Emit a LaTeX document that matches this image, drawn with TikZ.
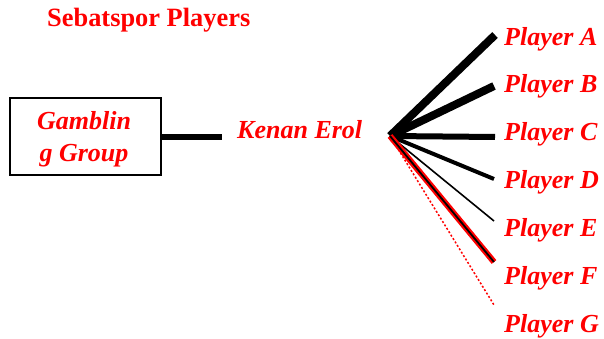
\documentclass[tikz,border=0pt]{standalone}
\usepackage{fontspec}
\setmainfont{Liberation Serif}
\begin{document}
\begin{tikzpicture}[x=1pt,y=-1pt,
  lbl/.style={text=red,font=\fontsize{26}{32}\selectfont\bfseries\itshape,inner sep=0pt,anchor=base west},
  ttl/.style={text=red,font=\fontsize{26.4}{32}\selectfont\bfseries,inner sep=0pt,anchor=base west},
  boxn/.style={draw=black,line width=2pt,minimum width=151pt,minimum height=77pt,inner sep=0pt},
  boxt/.style={inner sep=0pt,align=center,text=red,font=\fontsize{26}{32}\selectfont\bfseries\itshape},
  tie/.style={draw=black,line cap=butt}
]
\useasboundingbox (0,0) rectangle (604,339);
\node[ttl] (title) at (47,27) {Sebatspor Players};
\node[boxn] (gg) at (85.5,136.5) {};
\node[boxt] (ggt) at (84,139.5) {Gamblin\\g Group};
\node[lbl] (ke) at (237,139) {Kenan Erol};
\coordinate (ggend) at (222,137);
\draw[tie,line width=6pt] (gg.east |- ggend) -- (ggend);
\coordinate (o) at (390,136);
\node[lbl] (pa) at (504,46) {Player A};
\node[lbl] (pb) at (504,93) {Player B};
\node[lbl] (pc) at (504,141) {Player C};
\node[lbl] (pd) at (504,188) {Player D};
\node[lbl] (pe) at (504,236) {Player E};
\node[lbl] (pf) at (504,284) {Player F};
\node[lbl] (pg) at (504,332) {Player G};
\coordinate (ea) at (495,35);
\coordinate (eb) at (494,86);
\coordinate (ec) at (495,137);
\coordinate (ed) at (494,179);
\coordinate (ee) at (494,221);
\coordinate (ef) at (494,262);
\coordinate (eg) at (494,305);
\draw[tie,line width=8pt] (o) -- (ea);
\draw[tie,line width=8pt] (o) -- (eb);
\draw[tie,line width=6pt] (o) -- (ec);
\draw[tie,line width=4pt] (o) -- (ed);
\draw[tie,line width=1.6pt] (o) -- (ee);
\draw[red,line width=1.5pt,dash pattern=on 2pt off 2pt] (o) -- (eg);
\draw[red,line width=6pt] (o) -- (ef);
\draw[tie,line width=1.8pt] (o) -- (ef);
\end{tikzpicture}
\end{document}
